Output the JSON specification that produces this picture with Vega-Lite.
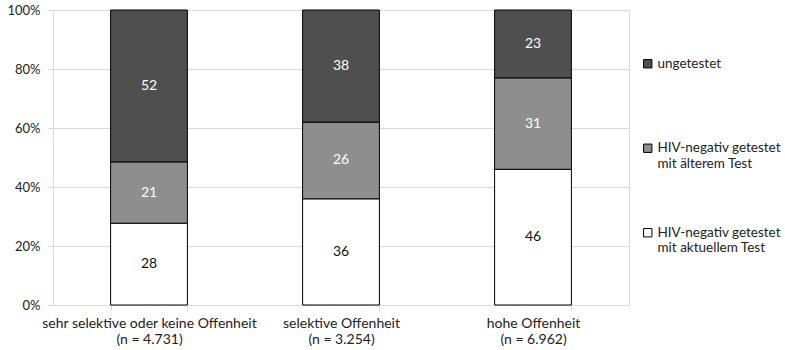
{
  "$schema": "https://vega.github.io/schema/vega-lite/v6.json",
  "width": 576,
  "height": 295,
  "autosize": {"type": "none"},
  "padding": {"left": 53, "top": 10, "right": 156, "bottom": 45},
  "background": "white",
  "config": {
    "font": "Lato",
    "view": {"stroke": "#d9d9d9", "strokeWidth": 1}
  },
  "data": {
    "values": [
      {"cat": "sehr selektive oder keine Offenheit|(n = 4.731)", "status": "HIV-negativ getestet|mit aktuellem Test", "ord": 1, "value": 28},
      {"cat": "sehr selektive oder keine Offenheit|(n = 4.731)", "status": "HIV-negativ getestet|mit älterem Test", "ord": 2, "value": 21},
      {"cat": "sehr selektive oder keine Offenheit|(n = 4.731)", "status": "ungetestet|", "ord": 3, "value": 52},
      {"cat": "selektive Offenheit|(n = 3.254)", "status": "HIV-negativ getestet|mit aktuellem Test", "ord": 1, "value": 36},
      {"cat": "selektive Offenheit|(n = 3.254)", "status": "HIV-negativ getestet|mit älterem Test", "ord": 2, "value": 26},
      {"cat": "selektive Offenheit|(n = 3.254)", "status": "ungetestet|", "ord": 3, "value": 38},
      {"cat": "hohe Offenheit|(n = 6.962)", "status": "HIV-negativ getestet|mit aktuellem Test", "ord": 1, "value": 46},
      {"cat": "hohe Offenheit|(n = 6.962)", "status": "HIV-negativ getestet|mit älterem Test", "ord": 2, "value": 31},
      {"cat": "hohe Offenheit|(n = 6.962)", "status": "ungetestet|", "ord": 3, "value": 23}
    ]
  },
  "encoding": {
    "x": {
      "field": "cat",
      "type": "nominal",
      "sort": null,
      "scale": {"paddingInner": 0.6, "paddingOuter": 0.3},
      "axis": {
        "title": null,
        "labelAngle": 0,
        "labelExpr": "split(datum.label, '|')",
        "labelFontSize": 14,
        "labelColor": "#222222",
        "labelLineHeight": 16,
        "labelPadding": 6,
        "labelLimit": 400,
        "tickBand": "extent",
        "tickSize": 5,
        "tickColor": "#d9d9d9",
        "domainColor": "#d9d9d9",
        "grid": false
      }
    }
  },
  "layer": [
    {
      "mark": {"type": "bar", "stroke": "black", "strokeWidth": 1},
      "encoding": {
        "y": {
          "field": "value",
          "type": "quantitative",
          "stack": "normalize",
          "axis": {
            "title": null,
            "format": "%",
            "tickCount": 5,
            "labelFontSize": 13,
            "labelColor": "#222222",
            "labelPadding": 8,
            "tickSize": 5,
            "tickColor": "#d9d9d9",
            "domainColor": "#d9d9d9",
            "gridColor": "#d9d9d9"
          }
        },
        "order": {"field": "ord", "type": "quantitative"},
        "color": {
          "field": "status",
          "type": "nominal",
          "scale": {
            "domain": ["ungetestet|", "HIV-negativ getestet|mit älterem Test", "HIV-negativ getestet|mit aktuellem Test"],
            "range": ["#4f4f4f", "#8e8e8e", "#ffffff"]
          },
          "legend": {
            "title": null,
            "orient": "none",
            "legendX": 588,
            "legendY": 47,
            "symbolType": "square",
            "symbolSize": 70,
            "symbolStrokeColor": "black",
            "symbolStrokeWidth": 1,
            "labelExpr": "split(datum.label, '|')",
            "labelFontSize": 13.5,
            "labelColor": "#222222",
            "labelLineHeight": 16,
            "labelBaseline": "middle",
            "labelOffset": 3,
            "rowPadding": 54.5,
            "labelLimit": 200
          }
        }
      }
    },
    {
      "mark": {"type": "text", "fontSize": 14},
      "encoding": {
        "y": {"field": "value", "type": "quantitative", "stack": "normalize", "bandPosition": 0.5},
        "order": {"field": "ord", "type": "quantitative"},
        "text": {"field": "value", "type": "quantitative"},
        "color": {"condition": {"test": "datum.ord === 1", "value": "#111111"}, "value": "white"}
      }
    }
  ]
}
